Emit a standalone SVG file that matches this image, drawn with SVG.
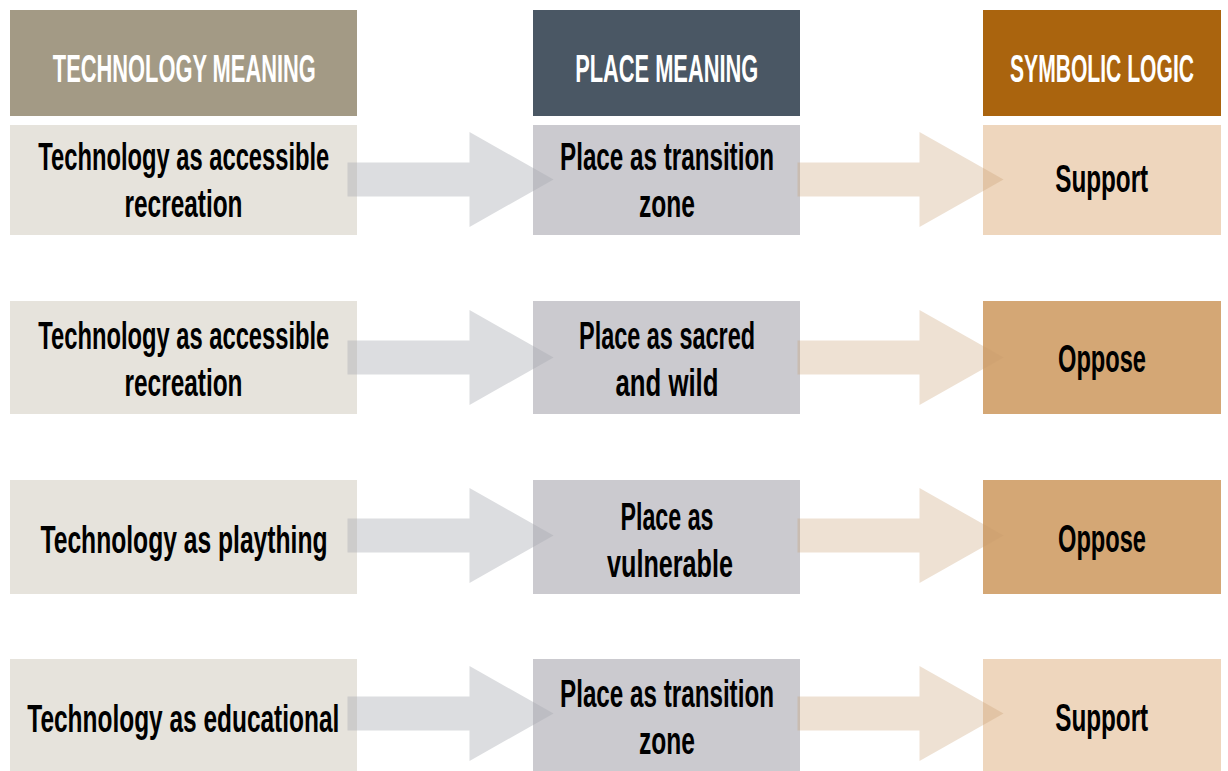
<svg xmlns="http://www.w3.org/2000/svg" width="1228" height="771" viewBox="0 0 1228 771">
  <style>
    text { font-family: "Liberation Sans", Arial, sans-serif; font-weight: bold; text-anchor: middle; }
    .hd { fill: #ffffff; font-size: 38px; }
    .bd { fill: #000000; font-size: 39px; }
    .h1 { fill: #A39A85; }
    .h2 { fill: #4A5764; }
    .h3 { fill: #AA640E; }
    .c1 { fill: #E6E3DC; }
    .c2 { fill: #CBCACF; }
    .sup { fill: #EED6BD; }
    .opp { fill: #D4A775; }
    .arr-gray { fill: #A8AAB2; fill-opacity: 0.4; }
    .arr-brown { fill: #C69B6C; fill-opacity: 0.3; }
  </style>
  <defs>
    <!-- block arrow, origin at the tail centre -->
    <path id="blockArrow" d="M0,-17 H122 V-47.5 L206,0 L122,47.5 V17 H0 Z"/>
  </defs>

  <rect width="1228" height="771" fill="#ffffff"/>

  <!-- column headers -->
  <g id="header-technology">
    <rect class="h1" x="10" y="10" width="347" height="106"/>
    <text class="hd" x="184.3" y="82.3" textLength="263" lengthAdjust="spacingAndGlyphs">TECHNOLOGY MEANING</text>
  </g>
  <g id="header-place">
    <rect class="h2" x="533" y="10" width="267" height="106"/>
    <text class="hd" x="666.7" y="81.7" textLength="183" lengthAdjust="spacingAndGlyphs">PLACE MEANING</text>
  </g>
  <g id="header-logic">
    <rect class="h3" x="983" y="10" width="238" height="106"/>
    <!-- condensed by a horizontal scale so the label stays inside the right edge -->
    <text class="hd" transform="translate(1102,82) scale(0.555,1)" x="0" y="0" textLength="331.5" lengthAdjust="spacingAndGlyphs">SYMBOLIC LOGIC</text>
  </g>

  <!-- row 1 -->
  <g id="tech-1">
    <rect class="c1" x="10" y="125" width="347" height="110"/>
    <text class="bd" x="183.8" y="170" textLength="291" lengthAdjust="spacingAndGlyphs">Technology as accessible</text>
    <text class="bd" x="183.5" y="216.7" textLength="118" lengthAdjust="spacingAndGlyphs">recreation</text>
  </g>
  <g id="place-1">
    <rect class="c2" x="533" y="125" width="267" height="110"/>
    <text class="bd" x="667" y="170" textLength="214" lengthAdjust="spacingAndGlyphs">Place as transition</text>
    <text class="bd" x="667" y="216.7" textLength="56" lengthAdjust="spacingAndGlyphs">zone</text>
  </g>
  <g id="logic-1">
    <rect class="sup" x="983" y="125" width="238" height="110"/>
    <text class="bd" x="1101.7" y="191.7" textLength="93" lengthAdjust="spacingAndGlyphs">Support</text>
  </g>

  <!-- row 2 -->
  <g id="tech-2">
    <rect class="c1" x="10" y="301" width="347" height="113"/>
    <text class="bd" x="183.8" y="349" textLength="291" lengthAdjust="spacingAndGlyphs">Technology as accessible</text>
    <text class="bd" x="183.5" y="396" textLength="118" lengthAdjust="spacingAndGlyphs">recreation</text>
  </g>
  <g id="place-2">
    <rect class="c2" x="533" y="301" width="267" height="113"/>
    <text class="bd" x="667" y="349" textLength="176" lengthAdjust="spacingAndGlyphs">Place as sacred</text>
    <text class="bd" x="667" y="396" textLength="103" lengthAdjust="spacingAndGlyphs">and wild</text>
  </g>
  <g id="logic-2">
    <rect class="opp" x="983" y="301" width="238" height="113"/>
    <text class="bd" x="1102" y="372" textLength="88" lengthAdjust="spacingAndGlyphs">Oppose</text>
  </g>

  <!-- row 3 -->
  <g id="tech-3">
    <rect class="c1" x="10" y="480" width="347" height="114"/>
    <text class="bd" x="184" y="552.7" textLength="287" lengthAdjust="spacingAndGlyphs">Technology as plaything</text>
  </g>
  <g id="place-3">
    <rect class="c2" x="533" y="480" width="267" height="114"/>
    <text class="bd" x="667" y="530" textLength="93" lengthAdjust="spacingAndGlyphs">Place as</text>
    <text class="bd" x="670" y="577" textLength="126" lengthAdjust="spacingAndGlyphs">vulnerable</text>
  </g>
  <g id="logic-3">
    <rect class="opp" x="983" y="480" width="238" height="114"/>
    <text class="bd" x="1102" y="552" textLength="88" lengthAdjust="spacingAndGlyphs">Oppose</text>
  </g>

  <!-- row 4 -->
  <g id="tech-4">
    <rect class="c1" x="10" y="659" width="347" height="113"/>
    <text class="bd" x="183.3" y="731.7" textLength="312" lengthAdjust="spacingAndGlyphs">Technology as educational</text>
  </g>
  <g id="place-4">
    <rect class="c2" x="533" y="659" width="267" height="113"/>
    <text class="bd" x="667" y="707" textLength="214" lengthAdjust="spacingAndGlyphs">Place as transition</text>
    <text class="bd" x="667" y="754" textLength="56" lengthAdjust="spacingAndGlyphs">zone</text>
  </g>
  <g id="logic-4">
    <rect class="sup" x="983" y="659" width="238" height="113"/>
    <text class="bd" x="1101.7" y="731" textLength="93" lengthAdjust="spacingAndGlyphs">Support</text>
  </g>

  <!-- connectors: translucent block arrows -->
  <g id="connectors">
    <use href="#blockArrow" class="arr-gray" x="347.5" y="179.5"/>
    <use href="#blockArrow" class="arr-brown" x="797.5" y="179.5"/>
    <use href="#blockArrow" class="arr-gray" x="347.5" y="357.5"/>
    <use href="#blockArrow" class="arr-brown" x="797.5" y="357.5"/>
    <use href="#blockArrow" class="arr-gray" x="347.5" y="535.5"/>
    <use href="#blockArrow" class="arr-brown" x="797.5" y="535.5"/>
    <use href="#blockArrow" class="arr-gray" x="347.5" y="713.5"/>
    <use href="#blockArrow" class="arr-brown" x="797.5" y="713.5"/>
  </g>
</svg>
